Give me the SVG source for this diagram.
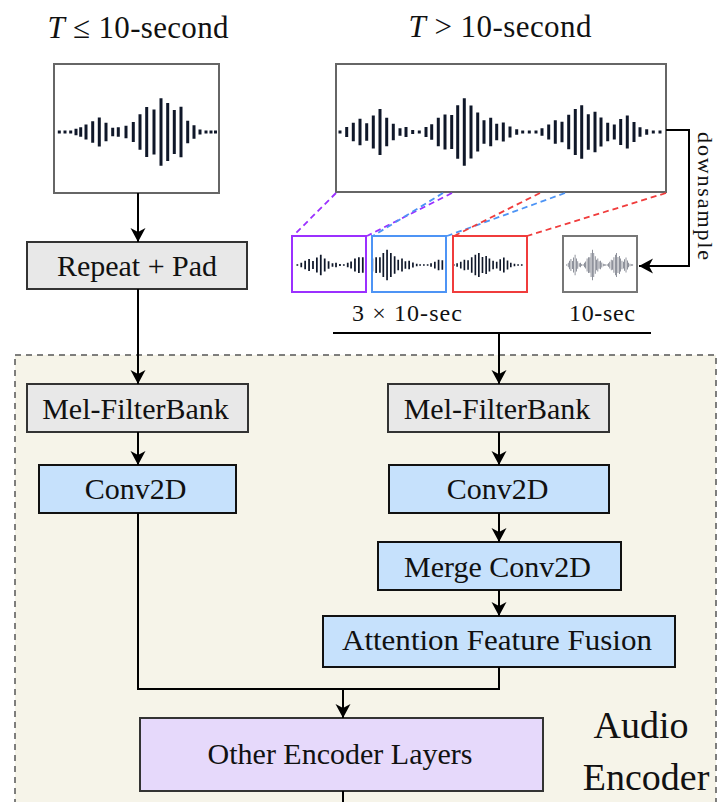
<svg xmlns="http://www.w3.org/2000/svg" xmlns:xlink="http://www.w3.org/1999/xlink" width="718" height="802" viewBox="0 0 718 802">
<style>
  .lbl { font-family: "Liberation Serif", "Times New Roman", serif; font-size: 30px; fill: #111; text-anchor: middle; }
  .ttl { font-family: "Liberation Serif", "Times New Roman", serif; font-size: 31px; fill: #111; text-anchor: middle; }
  .sml { font-family: "Liberation Serif", "Times New Roman", serif; font-size: 24px; fill: #111; text-anchor: middle; }
  .big { font-family: "Liberation Serif", "Times New Roman", serif; font-size: 38px; fill: #111; text-anchor: middle; }
  .gray { fill: #e8e8e8; stroke: #333; stroke-width: 2; }
  .blue { fill: #c6e1fc; stroke: #111; stroke-width: 2; }
  .lav { fill: #e6d9fb; stroke: #333; stroke-width: 2; }
  .wbox { fill: #fff; stroke: #666; stroke-width: 2; }
  .conn { fill: none; stroke: #000; stroke-width: 2; }
  .dash { fill: none; stroke-width: 1.8; stroke-dasharray: 6 4; }
</style>
<defs>
  <marker id="arr" markerUnits="userSpaceOnUse" markerWidth="16" markerHeight="16" refX="14" refY="8" orient="auto">
    <path d="M0,0.5 L14,8 L0,15.5 L4,8 Z" fill="#000"/>
  </marker>
  <path id="bigwave" fill="none" stroke-width="3" d="M340,130.5v3M346.7,127v10M353.3,122.8v18.4M360,118.8v26.4M366.7,123.3v17.4M373.3,115.5v33M380,109v46M386.7,117.8v28.4M393.3,123.7v16.6M400,128.3v7.4M406,127v10M412.7,130v4M419.3,130.5v3M426,127v10M431.7,124.3v15.4M438.3,117.7v28.6M445,114.5v35M451.7,115v34M457.7,105.2v53.6M464.3,98.2v67.6M471,105.5v53M477.7,112.5v39M484,120.3v23.4M490.7,117.8v28.4M496.7,123.7v16.6M503.3,122.5v19M510,126.5v11M516.7,129.2v5.6M522.7,130.5v3M529.3,130.5v3M536,130.5v3M542,128.3v7.4M548.7,124.5v15M555.3,120.2v23.6M562,121.7v20.6M568.7,114.7v34.6M575.3,109v46M581.7,105.2v53.6M588.3,114.2v35.6M595,111.8v40.4M601,117.5v29M607.7,122.7v18.6M614.3,124.5v15M620.7,119v26M627.3,115.5v33M634,122v20M640,127.2v9.6M646.7,129.2v5.6M653.3,130.5v3M660,130.5v3"/>
  <clipPath id="cpP"><rect x="293" y="237" width="72" height="54"/></clipPath>
  <clipPath id="cpB"><rect x="373" y="237" width="72" height="54"/></clipPath>
  <clipPath id="cpR"><rect x="454" y="237" width="72" height="54"/></clipPath>
  <clipPath id="cpG"><rect x="564" y="237" width="72" height="54"/></clipPath>
</defs>

<!-- Audio encoder container -->
<g id="audio-encoder">
  <rect x="15" y="355" width="701" height="470" fill="#f6f4e9" stroke="#555" stroke-width="1.5" stroke-dasharray="6 5"/>
  <text class="big" x="641" y="738">Audio</text>
  <text class="big" x="646" y="790">Encoder</text>
</g>

<!-- Titles -->
<g id="title-short">
  <text class="ttl" x="138" y="38" textLength="181" lengthAdjust="spacing"><tspan font-style="italic">T</tspan> ≤ 10-second</text>
</g>
<g id="title-long">
  <text class="ttl" x="500" y="37" textLength="183" lengthAdjust="spacing"><tspan font-style="italic">T</tspan> &gt; 10-second</text>
</g>

<!-- Short audio waveform -->
<g id="wave-short">
  <rect class="wbox" x="54" y="64" width="165" height="129"/>
  <path fill="none" stroke="#0f1729" stroke-width="3" d="M59.3,130.5v3M65,130.5v3M70.7,130.5v3M76,128.7v6.6M80.7,127.2v9.6M86,124.5v15M92.7,121.2v21.6M99.3,117.5v29M106,122.8v18.4M112.7,127.8v8.4M118.3,127.2v9.6M126,125.8v12.4M133.3,122v20M140,114.2v35.6M146.7,107v50M154,109.5v45M161,98.3v67.4M167.7,103v58M174.3,110v44M181,106.7v50.6M187.7,120.7v22.6M194,125.3v13.4M200,129.5v5M206,130.5v3M211,130.5v3M215.5,130.5v3"/>
</g>

<!-- Long audio waveform -->
<g id="wave-long">
  <rect class="wbox" x="336" y="64" width="330" height="128"/>
  <use xlink:href="#bigwave" href="#bigwave" stroke="#0f1729"/>
</g>

<!-- Split chunks -->
<g id="chunk-1">
  <rect x="292" y="236" width="74" height="56" fill="#fff" stroke="#9b30ff" stroke-width="2"/>
  <g clip-path="url(#cpP)"><use xlink:href="#bigwave" href="#bigwave" stroke="#0f1729" transform="translate(295,265) scale(0.586,0.45) translate(-336,-132)"/></g>
</g>
<g id="chunk-2">
  <rect x="372" y="236" width="74" height="56" fill="#fff" stroke="#4d94f5" stroke-width="2"/>
  <g clip-path="url(#cpB)"><use xlink:href="#bigwave" href="#bigwave" stroke="#0f1729" transform="translate(375,265) scale(0.566,0.45) translate(-443,-132)"/></g>
</g>
<g id="chunk-3">
  <rect x="453" y="236" width="74" height="56" fill="#fff" stroke="#f03c3c" stroke-width="2"/>
  <g clip-path="url(#cpR)"><use xlink:href="#bigwave" href="#bigwave" stroke="#0f1729" transform="translate(456,265) scale(0.548,0.45) translate(-540,-132)"/></g>
</g>
<g id="chunk-down">
  <rect x="563" y="236" width="74" height="56" fill="#fff" stroke="#777" stroke-width="2"/>
  <g clip-path="url(#cpG)"><use xlink:href="#bigwave" href="#bigwave" stroke="#4a4f5e" transform="translate(566,265) scale(0.206,0.45) translate(-336,-132)"/></g>
</g>
<g id="chunk-labels">
  <text class="sml" x="407" y="321" textLength="110" lengthAdjust="spacing">3 × 10-sec</text>
  <text class="sml" x="602" y="321" textLength="66" lengthAdjust="spacing">10-sec</text>
  <text class="sml" style="font-size:22px" transform="translate(698,196) rotate(90)" x="0" y="0" textLength="128" lengthAdjust="spacing">downsample</text>
</g>

<!-- Nodes -->
<g id="repeat-pad">
  <rect class="gray" x="27" y="242" width="220" height="47"/>
  <text class="lbl" x="137" y="276">Repeat + Pad</text>
</g>
<g id="mel-left">
  <rect class="gray" x="27" y="384" width="221" height="48"/>
  <text class="lbl" x="135.5" y="419">Mel-FilterBank</text>
</g>
<g id="conv-left">
  <rect class="blue" x="39" y="465" width="197" height="48"/>
  <text class="lbl" x="135.5" y="499">Conv2D</text>
</g>
<g id="mel-right">
  <rect class="gray" x="388" y="384" width="221" height="48"/>
  <text class="lbl" x="497" y="419">Mel-FilterBank</text>
</g>
<g id="conv-right">
  <rect class="blue" x="389" y="465" width="220" height="48"/>
  <text class="lbl" x="497.5" y="499">Conv2D</text>
</g>
<g id="merge-conv">
  <rect class="blue" x="378" y="542" width="243" height="48"/>
  <text class="lbl" x="497.5" y="577">Merge Conv2D</text>
</g>
<g id="aff">
  <rect class="blue" x="323" y="616" width="352" height="51"/>
  <text class="lbl" x="497" y="650" textLength="310" lengthAdjust="spacingAndGlyphs">Attention Feature Fusion</text>
</g>
<g id="other-layers">
  <rect class="lav" x="140" y="718" width="403" height="73"/>
  <text class="lbl" x="340" y="764">Other Encoder Layers</text>
</g>

<!-- Connectors -->
<g id="connectors">
  <path class="dash" stroke="#9b30ff" d="M336,193 L293,236 M452,193 L367,236"/>
  <path class="dash" stroke="#4d94f5" d="M443,193 L373,236 M565,193 L447,236"/>
  <path class="dash" stroke="#f03c3c" d="M540,193 L454,236 M666,193 L527,236"/>
  <path class="conn" d="M138,193 V242" marker-end="url(#arr)"/>
  <path class="conn" d="M138,289 V384" marker-end="url(#arr)"/>
  <path class="conn" d="M138,432 V465" marker-end="url(#arr)"/>
  <path class="conn" d="M138,513 V689 H499 V667"/>
  <path class="conn" d="M343,689 V718" marker-end="url(#arr)"/>
  <path class="conn" d="M343,791 V802"/>
  <path class="conn" d="M666,130 H689 V266 H639" marker-end="url(#arr)"/>
  <path class="conn" d="M333,333 H651"/>
  <path class="conn" d="M499,333 V384" marker-end="url(#arr)"/>
  <path class="conn" d="M499,432 V465" marker-end="url(#arr)"/>
  <path class="conn" d="M499,513 V542" marker-end="url(#arr)"/>
  <path class="conn" d="M499,590 V616" marker-end="url(#arr)"/>
</g>
</svg>
